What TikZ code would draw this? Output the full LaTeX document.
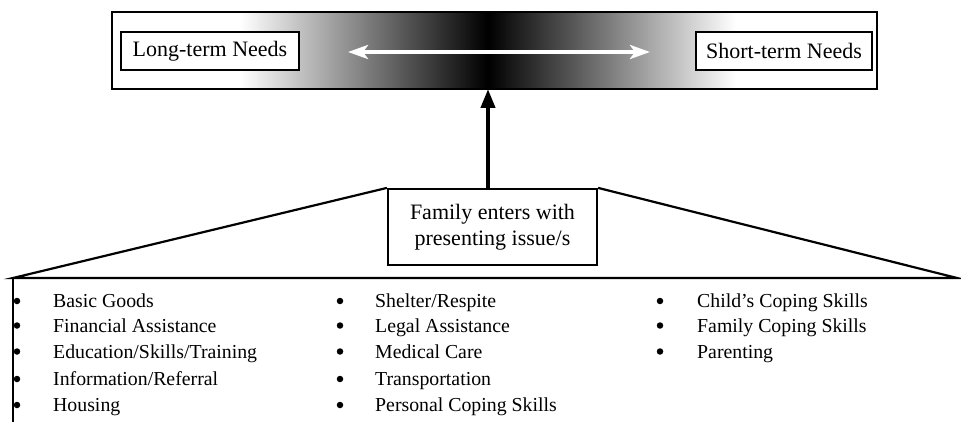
\documentclass[tikz,border=0pt]{standalone}
\usepackage{fontspec}
\setmainfont{Liberation Serif}
\usetikzlibrary{arrows.meta}
\begin{document}
\begin{tikzpicture}[x=1pt,y=-1pt,
  needbox/.style={draw=black, line width=2pt, fill=white, minimum width=#1, minimum height=38pt, inner sep=0pt, font=\fontsize{22}{26}\selectfont},
  itemtext/.style={anchor=base west, inner sep=0pt, font=\fontsize{19.8}{23}\selectfont},
  bulletdot/.style={fill=black, draw=none, circle, minimum size=6.5pt, inner sep=0pt},
  frameline/.style={line width=2.2pt, line join=miter}]
\useasboundingbox (0,0) rectangle (961,422);
% top gradient box
\node (top) [minimum width=765pt, minimum height=77pt, inner sep=0pt] at (494.5,50.5) {};
\fill[white] (top.north west) rectangle (240,89);
\shade[left color=white, right color=black] (240,12) rectangle (488,89);
\shade[left color=black, right color=white] (488,12) rectangle (736,89);
\fill[white] (736,12) rectangle (top.south east);
\draw[line width=2.5pt] (top.north west) rectangle (top.south east);
\node (long) [needbox=178pt] at (210,51) {Long-term Needs};
\node (short) [needbox=176pt] at (784,51) {Short-term Needs};
\coordinate (la) at (348,52);
\coordinate (ra) at (650,52);
\draw[white, line width=4.5pt, {Stealth[length=20pt,width=14pt,inset=5pt]}-{Stealth[length=20pt,width=14pt,inset=5pt]}] (la) -- (ra);
% family box
\node (fam) [draw=black, line width=2.2pt, minimum width=209pt, minimum height=76pt, inner sep=0pt, align=center, font=\fontsize{22}{26}\selectfont] at (492.5,227) {\raisebox{4pt}{\parbox{205pt}{\centering Family enters with\\presenting issue/s}}};
\coordinate (mid) at (488,89);
\draw[line width=4pt, -{Triangle[length=19pt,width=14pt]}] (fam.north -| mid) -- (mid);
\coordinate (bl) at (13,278);
\coordinate (br) at (957,278);
\coordinate (bot) at (13,422);
\draw[frameline] (fam.north east) -- (br) -- (bl) -- (fam.north west);
\draw[frameline] (bl) -- (bot);
% lists
\foreach \yy/\t [count=\i] in {301/{Basic Goods}, 325.5/{Financial Assistance}, 351.5/{Education/Skills/Training}, 379/{Information/Referral}, 405/{Housing}} {
  \node (a\i) [bulletdot] at (17,\yy) {};
  \node (ta\i) [itemtext] at (53,\yy+6.5) {\t};
}
\foreach \yy/\t [count=\i] in {301/{Shelter/Respite}, 325.5/{Legal Assistance}, 351.5/{Medical Care}, 379/{Transportation}, 405/{Personal Coping Skills}} {
  \node (b\i) [bulletdot] at (340,\yy) {};
  \node (tb\i) [itemtext] at (375,\yy+6.5) {\t};
}
\foreach \yy/\t [count=\i] in {301/{Child’s Coping Skills}, 325.5/{Family Coping Skills}, 351.5/{Parenting}} {
  \node (c\i) [bulletdot] at (660,\yy) {};
  \node (tc\i) [itemtext] at (697,\yy+6.5) {\t};
}
\end{tikzpicture}
\end{document}
